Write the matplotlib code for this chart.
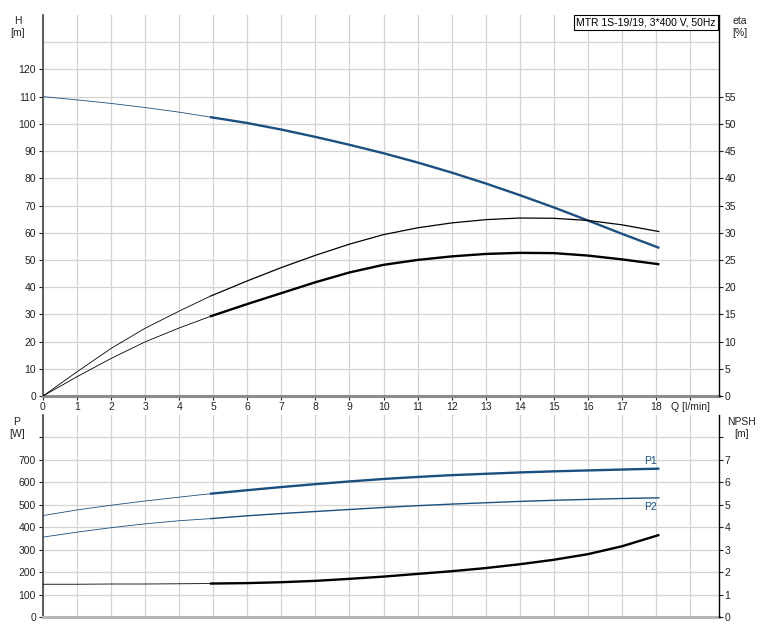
"""Courbes de pompe MTR 1S-19/19 : H / eta en haut, P / NPSH en bas."""
import matplotlib

matplotlib.use("Agg")
import matplotlib.pyplot as plt  # noqa: E402

plt.rcParams["font.family"] = ["Liberation Sans", "DejaVu Sans"]
plt.rcParams["font.size"] = 7.5

# débit Q [l/min]
q = [0, 1, 2, 3, 4, 4.9, 6, 7, 8, 9, 10, 11, 12, 13, 14, 15, 16, 17, 18.1]
# hauteur H [m]
head = [110, 108.8, 107.5, 106, 104.3, 102.5, 100.3, 97.9, 95.2, 92.3,
        89.2, 85.8, 82.1, 78.1, 73.8, 69.3, 64.5, 59.6, 54.4]
# rendements [%]
eta_total = [0, 4.45, 8.75, 12.45, 15.6, 18.3, 21.15, 23.6, 25.85, 27.9,
             29.65, 30.9, 31.8, 32.4, 32.7, 32.65, 32.25, 31.45, 30.2]
eta_pump = [0, 3.55, 6.9, 9.95, 12.5, 14.6, 16.9, 18.9, 20.9, 22.7,
            24.1, 25.0, 25.65, 26.1, 26.3, 26.25, 25.8, 25.1, 24.2]
# puissances [W]
p1 = [452, 477, 498, 517, 534, 549, 565, 579, 592, 604,
      615, 624, 632, 638, 644, 649, 653, 657, 661]
p2 = [356, 378, 398, 415, 429, 438, 451, 461, 470, 479,
      488, 496, 503, 509, 515, 520, 524, 528, 531]
# NPSH [m]
npsh = [1.46, 1.46, 1.47, 1.47, 1.48, 1.49, 1.51, 1.55, 1.61, 1.70,
        1.80, 1.92, 2.04, 2.18, 2.35, 2.55, 2.80, 3.15, 3.66]

x_labels = [str(i) for i in range(19)] + ["Q [l/min]"]
title = "MTR 1S-19/19, 3*400 V, 50Hz"

BLUE = "#1b4f80"
GRID = "#d4d4d4"
SPLIT = 5  # index de 4.9 : trait fin avant, trait épais après


def draw(ax, x, y, color, thick):
    ax.plot(x[:SPLIT + 1], y[:SPLIT + 1], color=color, lw=0.6, solid_capstyle="butt")
    ax.plot(x[SPLIT:], y[SPLIT:], color=color, lw=thick, solid_capstyle="butt")


def style(ax, twin):
    for s in ("top", "right"):
        ax.spines[s].set_visible(False)
    ax.spines["left"].set_color("#444444")
    ax.spines["left"].set_linewidth(1.2)
    for s in ("top", "left", "bottom"):
        twin.spines[s].set_visible(False)
    twin.spines["right"].set_color("black")
    twin.spines["right"].set_linewidth(1.0)
    ax.tick_params(axis="y", length=3, width=0.8, pad=2, colors="#222222")
    ax.tick_params(axis="y", which="minor", length=0)
    twin.tick_params(axis="y", length=3, width=0.8, pad=1, colors="#222222")
    ax.grid(True, which="both", color=GRID, lw=0.9)
    ax.set_axisbelow(True)
    ax.set_xlim(0, 19.85)


fig = plt.figure(figsize=(7.65, 6.29), dpi=100)
ax_h = fig.add_axes([43 / 765, 233 / 629, 676 / 765, 381 / 629])
ax_p = fig.add_axes([43 / 765, 12 / 629, 676 / 765, 202 / 629])
ax_eta = ax_h.twinx()
ax_npsh = ax_p.twinx()

# --- graphique du haut
style(ax_h, ax_eta)
ax_h.set_ylim(0, 140)
ax_h.set_yticks(range(0, 130, 10))
ax_h.set_yticks([130], minor=True)
ax_h.set_xticks(range(20))
ax_h.set_xticklabels(x_labels)
ax_h.tick_params(axis="x", length=3, width=0.8, pad=1.5, colors="#222222")
ax_h.spines["bottom"].set_color("#8c8c8c")
ax_h.spines["bottom"].set_linewidth(2.2)
ax_eta.set_ylim(0, 70)
ax_eta.set_yticks(range(0, 60, 5))

draw(ax_h, q, head, BLUE, 1.7)
draw(ax_eta, q, eta_total, "black", 0.9)
draw(ax_eta, q, eta_pump, "black", 1.7)

ax_h.text(0.995, 0.993, title, transform=ax_h.transAxes, ha="right", va="top",
          fontsize=7.5, bbox=dict(boxstyle="square,pad=0.25", fc="white", ec="black", lw=0.8))

# --- graphique du bas
style(ax_p, ax_npsh)
ax_p.set_ylim(0, 900)
ax_p.set_yticks(range(0, 900, 100))
ax_p.set_yticklabels([str(v) if v <= 700 else "" for v in range(0, 900, 100)])
ax_p.set_xticks(range(20))
ax_p.tick_params(axis="x", length=0, labelbottom=False)
ax_p.spines["bottom"].set_color("#b4b4b4")
ax_p.spines["bottom"].set_linewidth(2.2)
ax_npsh.set_ylim(0, 9)
ax_npsh.set_yticks(range(9))
ax_npsh.set_yticklabels([str(v) if v <= 7 else "" for v in range(9)])

draw(ax_p, q, p1, BLUE, 1.7)
draw(ax_p, q, p2, BLUE, 1.0)
draw(ax_npsh, q, npsh, "black", 1.7)
ax_p.annotate("P1", (q[-1], p1[-1]), xytext=(-2, 2), textcoords="offset points",
              ha="right", va="bottom", color=BLUE, fontsize=7.5)
ax_p.annotate("P2", (q[-1], p2[-1]), xytext=(-2, -3), textcoords="offset points",
              ha="right", va="top", color=BLUE, fontsize=7.5)

# --- titres d'axes
for x, y, s in [(18, 613, "H\n[m]"), (740, 613, "eta\n[%]"),
                (17, 212, "P\n[W]"), (742, 212, "NPSH\n[m]")]:
    fig.text(x / 765, y / 629, s, ha="center", va="top", fontsize=7.5,
             linespacing=1.25, color="#222222")

fig.savefig("out.png", dpi=100)
plt.close(fig)
